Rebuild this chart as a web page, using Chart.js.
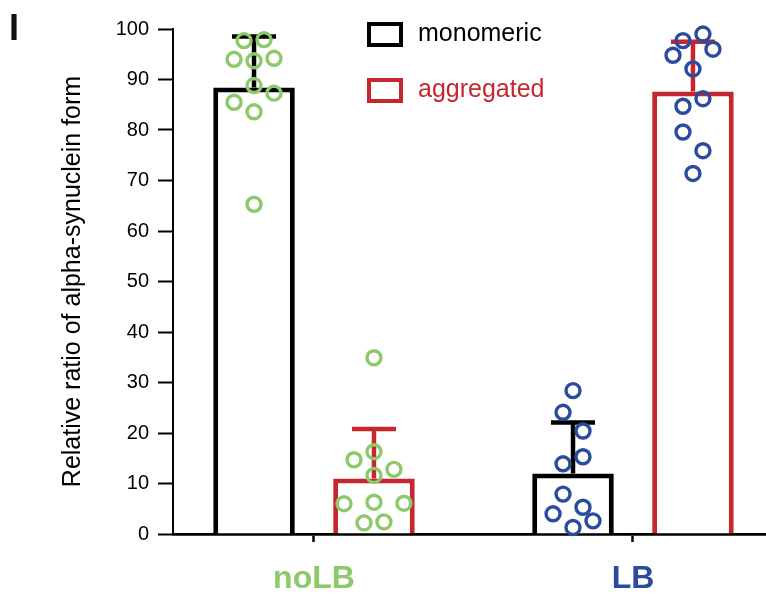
<!DOCTYPE html>
<html>
<head>
<meta charset="utf-8">
<script src="https://cdn.jsdelivr.net/npm/chart.js@4"></script>
<style>
  body { margin: 0; background: #fff; }
  #wrap { width: 766px; height: 594px; position: relative; }
</style>
</head>
<body>
<div id="wrap"><canvas id="chart"></canvas></div>
<script>
/* ---- data ---- */
const groups      = ['noLB', 'LB'];
const groupColors = ['#8DC969', '#2B4C9E'];
const seriesNames = ['monomeric', 'aggregated'];
const seriesColors = ['#000000', '#C6262E'];

const monoMeans = [88.4, 12.0];
const monoSD    = [10.1, 10.1];
const aggMeans  = [11.0, 87.6];
const aggSD     = [9.8, 9.9];

// individual samples (y) and their horizontal jitter (in dot steps)
const noLBMonoDots   = [97.7, 97.9, 94.0, 93.7, 94.2, 88.8, 87.3, 85.5, 83.6, 65.3];
const noLBMonoJitter = [-1, 1, -2, 0, 2, 0, 2, -2, 0, 0];
const noLBAggDots    = [34.9, 16.3, 14.7, 12.8, 11.6, 6.0, 6.3, 6.1, 2.2, 2.4];
const noLBAggJitter  = [0, 0, -2, 2, 0, -3, 0, 3, -1, 1];
const lbMonoDots     = [28.4, 24.1, 20.4, 15.3, 13.9, 7.9, 5.3, 4.0, 2.6, 1.3];
const lbMonoJitter   = [0, -1, 1, 1, -1, -1, 1, -2, 2, 0];
const lbAggDots      = [99.0, 97.7, 96.0, 94.8, 92.1, 86.2, 84.7, 79.6, 75.9, 71.4];
const lbAggJitter    = [1, -1, 2, -2, 0, 1, -1, -1, 1, 0];

const yMin = 0, yMax = 100, yStep = 10;

/* ---- layout helpers ---- */
const FONT = "'Liberation Sans', Arial, sans-serif";
const catPct = 0.752;          // share of a group used by the two bars
const barPct = 0.68;
const jitterStep = 0.0313;     // one dot step, in group units

// x position of a dot: group index + half-slot shift for the series + jitter
function dotPoints(groupIdx, seriesIdx, ys, jit) {
  const shift = (seriesIdx === 0 ? -1 : 1) * catPct / 4;
  return ys.map((y, i) => ({ x: groupIdx + shift + jit[i] * jitterStep, y: y }));
}

function barDataset(label, color, means, sds) {
  return {
    type: 'bar',
    label: label,
    data: means.map((m, i) => ({ x: i, y: m })),
    sd: sds,
    backgroundColor: '#ffffff',
    borderColor: color,
    borderWidth: 5,
    borderSkipped: 'start',
    categoryPercentage: catPct,
    barPercentage: barPct,
    order: 2
  };
}

function dotDataset(points, color) {
  return {
    type: 'scatter',
    data: points,
    clip: false,
    pointStyle: 'circle',
    pointRadius: 7,
    pointBorderWidth: 3.4,
    pointBackgroundColor: 'rgba(0,0,0,0)',
    pointBorderColor: color,
    order: 1
  };
}

/* ---- error bars: drawn right after each bar dataset ---- */
const errorBars = {
  id: 'errorBars',
  afterDatasetDraw(chart, args) {
    const ds = chart.data.datasets[args.index];
    if (ds.type !== 'bar') return;
    const ctx = chart.ctx;
    const y = chart.scales.y;
    ctx.save();
    ctx.strokeStyle = ds.borderColor;
    ctx.lineWidth = 4.5;
    args.meta.data.forEach((bar, i) => {
      const top = y.getPixelForValue(ds.data[i].y + ds.sd[i]);
      ctx.beginPath();
      ctx.moveTo(bar.x, bar.y);
      ctx.lineTo(bar.x, top);
      ctx.moveTo(bar.x - 22, top);
      ctx.lineTo(bar.x + 22, top);
      ctx.stroke();
    });
    ctx.restore();
  }
};

/* ---- panel letter and inset legend ---- */
const decorations = {
  id: 'decorations',
  afterDraw(chart) {
    const ctx = chart.ctx;
    ctx.save();
    ctx.fillStyle = '#111';
    ctx.font = 'bold 36px ' + FONT;
    ctx.textBaseline = 'alphabetic';
    ctx.fillText('I', 9, 40);

    ctx.font = '25px ' + FONT;
    ctx.textBaseline = 'middle';
    seriesNames.forEach((name, i) => {
      const top = 24 + i * 56;
      ctx.strokeStyle = seriesColors[i];
      ctx.lineWidth = 4;
      ctx.strokeRect(369, top, 32, 21);
      ctx.fillStyle = seriesColors[i];
      ctx.fillText(name, 418, top + 10);
    });
    ctx.restore();
  }
};

new Chart(document.getElementById('chart'), {
  type: 'bar',
  data: {
    datasets: [
      barDataset(seriesNames[0], seriesColors[0], monoMeans, monoSD),
      barDataset(seriesNames[1], seriesColors[1], aggMeans, aggSD),
      dotDataset(dotPoints(0, 0, noLBMonoDots, noLBMonoJitter), groupColors[0]),
      dotDataset(dotPoints(0, 1, noLBAggDots, noLBAggJitter), groupColors[0]),
      dotDataset(dotPoints(1, 0, lbMonoDots, lbMonoJitter), groupColors[1]),
      dotDataset(dotPoints(1, 1, lbAggDots, lbAggJitter), groupColors[1])
    ]
  },
  options: {
    responsive: true,
    maintainAspectRatio: false,
    animation: false,
    layout: {
      autoPadding: false,   // dots would otherwise push the right edge in
      padding: { left: 48, top: 29, right: 0, bottom: 0 }
    },
    plugins: {
      legend: { display: false },
      tooltip: { enabled: false }
    },
    scales: {
      x: {
        type: 'linear',
        min: -0.442,
        max: 1.417,
        offset: false,
        afterBuildTicks: s => { s.ticks = groups.map((g, i) => ({ value: i })); },
        afterFit: s => { s.height = 60; s.paddingLeft = 0; s.paddingRight = 0; },
        border: { display: true, color: '#000', width: 2.7 },
        grid: {
          offset: false,
          drawOnChartArea: false,
          tickLength: 8,
          tickWidth: 2.5,
          tickColor: '#000'
        },
        ticks: {
          padding: 18,
          maxRotation: 0,
          autoSkip: false,
          font: { family: FONT, size: 32, weight: 'bold' },
          color: ctx => groupColors[ctx.index],
          callback: v => groups[v]
        }
      },
      y: {
        min: yMin,
        max: yMax,
        afterFit: s => { s.width = 125; },
        border: { display: true, color: '#000', width: 2 },
        grid: {
          drawOnChartArea: false,
          tickLength: 15,
          tickWidth: 2,
          tickColor: '#000'
        },
        ticks: {
          stepSize: yStep,
          padding: 9,
          color: '#000',
          font: { family: FONT, size: 20 }
        },
        title: {
          display: true,
          text: 'Relative ratio of alpha-synuclein form',
          color: '#000',
          padding: { top: 10, bottom: 0 },
          font: { family: FONT, size: 25 }
        }
      }
    }
  },
  plugins: [errorBars, decorations]
});
</script>
</body>
</html>
